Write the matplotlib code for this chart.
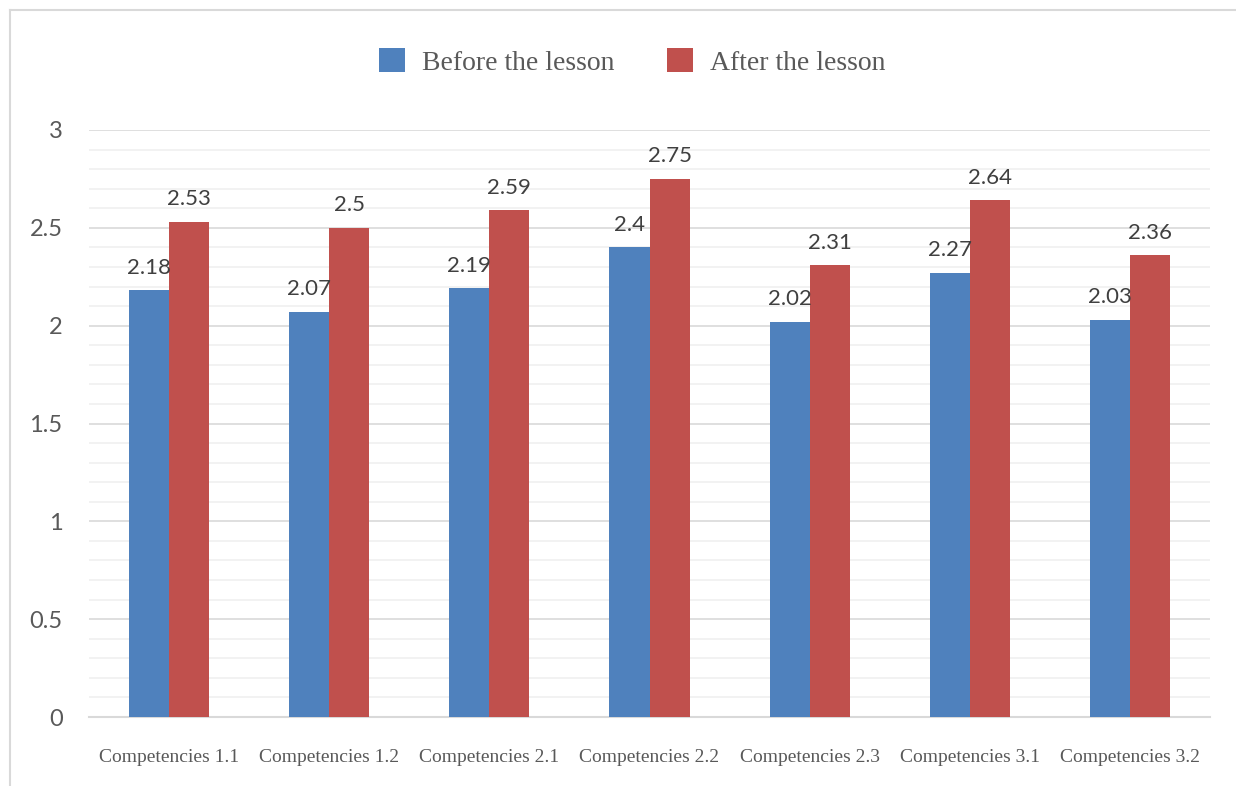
import numpy as np
import matplotlib
matplotlib.use("Agg")
import matplotlib.pyplot as plt
from matplotlib.ticker import MultipleLocator
from matplotlib.lines import Line2D

categories = ["Competencies 1.1", "Competencies 1.2", "Competencies 2.1", "Competencies 2.2",
              "Competencies 2.3", "Competencies 3.1", "Competencies 3.2"]
before = [2.18, 2.07, 2.19, 2.40, 2.02, 2.27, 2.03]
after = [2.53, 2.50, 2.59, 2.75, 2.31, 2.64, 2.36]
before_lbl = ["2.18", "2.07", "2.19", "2.4", "2.02", "2.27", "2.03"]
after_lbl = ["2.53", "2.5", "2.59", "2.75", "2.31", "2.64", "2.36"]

BLUE, RED = "#4f81bd", "#c0504d"
GREY = "#595959"
SANS = ["Lato", "DejaVu Sans"]
SERIF = ["Liberation Serif", "DejaVu Serif"]

fig = plt.figure(figsize=(12.36, 7.86), dpi=100)
ax = fig.add_axes([89 / 1236, 1 - 717 / 786, (1210 - 89) / 1236, (717 - 130) / 786])

x = np.arange(len(categories))
w = 0.25
b1 = ax.bar(x - w / 2, before, w, color=BLUE, label="Before the lesson", zorder=3)
b2 = ax.bar(x + w / 2, after, w, color=RED, label="After the lesson", zorder=3)

for bars, labels in ((b1, before_lbl), (b2, after_lbl)):
    for r, t in zip(bars, labels):
        ax.annotate(t, (r.get_x() + r.get_width() / 2, r.get_height()), xytext=(0, 9),
                    textcoords="offset points", ha="center", va="bottom",
                    fontsize=16, color="#404040", family=SANS, zorder=4)

ax.set_xlim(-0.5, len(categories) - 0.5)
ax.set_ylim(0, 3)
ax.yaxis.set_major_locator(MultipleLocator(0.5))
ax.yaxis.set_minor_locator(MultipleLocator(0.1))
ax.set_yticks([0, 0.5, 1, 1.5, 2, 2.5, 3], ["0", "0.5", "1", "1.5", "2", "2.5", "3"])
ax.grid(axis="y", which="major", color="#d9d9d9", lw=1.2, zorder=0)
ax.grid(axis="y", which="minor", color="#f0f0f0", lw=1.2, zorder=0)
ax.set_xticks(x, categories)
for s in ("top", "right", "left"):
    ax.spines[s].set_visible(False)
ax.spines["bottom"].set_color("#d9d9d9")
ax.spines["bottom"].set_linewidth(1.5)
ax.tick_params(axis="both", which="both", length=0)
ax.tick_params(axis="y", pad=19, labelsize=17, labelcolor=GREY)
ax.tick_params(axis="x", pad=23, labelsize=14, labelcolor=GREY)
for t in ax.get_yticklabels():
    t.set_family(SANS)
for t in ax.get_xticklabels():
    t.set_family(SERIF)

leg = fig.legend(handles=[b1, b2], loc="center", bbox_to_anchor=(632 / 1236, 1 - 62 / 786),
                 ncol=2, frameon=False, prop={"family": SERIF, "size": 20},
                 handlelength=0.95, handleheight=0.95, columnspacing=1.9, handletextpad=0.6)
for t in leg.get_texts():
    t.set_color(GREY)

# chart-area frame (left and top edges visible)
fig.add_artist(Line2D([10 / 1236, 10 / 1236], [0, 1 - 10 / 786], color="#d9d9d9", lw=1.5))
fig.add_artist(Line2D([10 / 1236, 1], [1 - 10 / 786, 1 - 10 / 786], color="#d9d9d9", lw=1.5))

fig.savefig("out.png", dpi=100)
